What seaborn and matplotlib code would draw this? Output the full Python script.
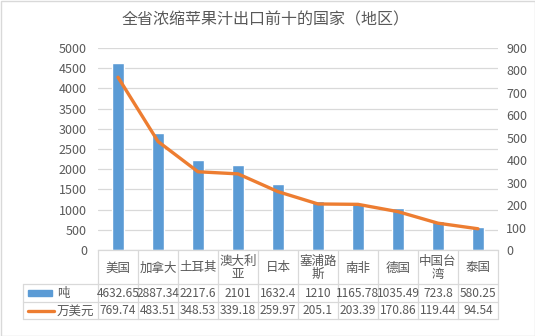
import numpy as np
import pandas as pd
import matplotlib
matplotlib.use("Agg")
import matplotlib.pyplot as plt
from matplotlib.lines import Line2D
from matplotlib.patches import Rectangle
import seaborn as sns

# Export data for the top ten destinations
categories = ["美国", "加拿大", "土耳其", "澳大利亚", "日本", "塞浦路斯", "南非", "德国", "中国台湾", "泰国"]
header_labels = ["美国", "加拿大", "土耳其", "澳大利\n亚", "日本", "塞浦路\n斯", "南非", "德国", "中国台\n湾", "泰国"]
tons = [4632.65, 2887.34, 2217.6, 2101, 1632.4, 1210, 1165.78, 1035.49, 723.8, 580.25]
usd_10k = [769.74, 483.51, 348.53, 339.18, 259.97, 205.1, 203.39, 170.86, 119.44, 94.54]
tons_text = ["4632.65", "2887.34", "2217.6", "2101", "1632.4", "1210", "1165.78", "1035.49", "723.8", "580.25"]
usd_text = ["769.74", "483.51", "348.53", "339.18", "259.97", "205.1", "203.39", "170.86", "119.44", "94.54"]
series_names = ["吨", "万美元"]
title = "全省浓缩苹果汁出口前十的国家（地区）"

sns.set_theme(style="white")
plt.rcParams["font.family"] = ["Noto Sans CJK SC", "DejaVu Sans"]

BLUE = "#5B9BD5"
ORANGE = "#ED7D31"
GRID = "#D9D9D9"
TEXT = "#595959"

W, H = 535, 336
fig = plt.figure(figsize=(W / 100, H / 100), dpi=100)

# plot area in pixel units
px_l, px_r, px_t, px_b = 98, 498, 48, 250
ax = fig.add_axes([px_l / W, 1 - px_b / H, (px_r - px_l) / W, (px_b - px_t) / H])

df = pd.DataFrame({"cat": categories, "tons": tons, "usd": usd_10k, "pos": np.arange(len(categories))})

sns.barplot(data=df, x="cat", y="tons", order=categories, color=BLUE, width=0.3,
            saturation=1, ax=ax)
ax.set_xlim(-0.5, len(categories) - 0.5)
ax.set_ylim(0, 5000)
ax.set_yticks(np.arange(0, 5001, 500))
ax.yaxis.grid(True, color=GRID, linewidth=0.9)
ax.set_axisbelow(True)
ax.set_xticks([])
ax.set_xlabel("")
ax.set_ylabel("")
for s in ["top", "right", "left"]:
    ax.spines[s].set_visible(False)
ax.spines["bottom"].set_color(GRID)
ax.spines["bottom"].set_linewidth(0.9)
ax.tick_params(axis="y", length=0, pad=8, labelsize=9, labelcolor=TEXT)

ax2 = ax.twinx()
sns.lineplot(data=df, x="pos", y="usd", color=ORANGE, linewidth=2.4, ax=ax2)
ax2.set_ylim(0, 900)
ax2.set_yticks(np.arange(0, 901, 100))
ax2.set_xlim(-0.5, len(categories) - 0.5)
ax2.set_ylabel("")
ax2.set_xlabel("")
for s in ["top", "right", "left", "bottom"]:
    ax2.spines[s].set_visible(False)
ax2.tick_params(axis="y", length=0, pad=6, labelsize=9, labelcolor=TEXT)

# overlay in pixel coordinates for the title, the data table and the frame
ov = fig.add_axes([0, 0, 1, 1], zorder=5)
ov.set_xlim(0, W)
ov.set_ylim(H, 0)
ov.axis("off")
ov.patch.set_alpha(0)

ov.add_patch(Rectangle((0.5, 0.5), W - 1, H - 1, fill=False, edgecolor=GRID, linewidth=1))
ov.text(W / 2 - 2, 20, title, ha="center", va="center", fontsize=11.5, color=TEXT)

# column boundaries from the category axis
fig.canvas.draw()
edges = [ax.transData.transform((k - 0.5, 0))[0] for k in range(len(categories) + 1)]
centers = [(edges[i] + edges[i + 1]) / 2 for i in range(len(categories))]

row_top, row1, row2, row_bot = 250, 284, 302, 319
left_edge = 23
lw = 0.9
for xe in edges:
    ov.add_line(Line2D([xe, xe], [row_top, row_bot], color=GRID, linewidth=lw))
ov.add_line(Line2D([left_edge, left_edge], [row1, row_bot], color=GRID, linewidth=lw))
for yy in (row1, row2, row_bot):
    ov.add_line(Line2D([left_edge, edges[-1]], [yy, yy], color=GRID, linewidth=lw))

for cx, lab in zip(centers, header_labels):
    ov.text(cx, (row_top + row1) / 2 + 1, lab, ha="center", va="center", fontsize=9,
            color=TEXT, linespacing=1.05)
for cx, t in zip(centers, tons_text):
    ov.text(cx, (row1 + row2) / 2 + 0.5, t, ha="center", va="center", fontsize=8.6, color=TEXT)
for cx, t in zip(centers, usd_text):
    ov.text(cx, (row2 + row_bot) / 2 + 0.5, t, ha="center", va="center", fontsize=8.6, color=TEXT)

# legend keys in the table
ov.add_patch(Rectangle((28, (row1 + row2) / 2 - 3), 24, 6, color=BLUE))
ov.text(57, (row1 + row2) / 2 + 0.5, series_names[0], ha="left", va="center", fontsize=9, color=TEXT)
ov.add_line(Line2D([28, 54], [(row2 + row_bot) / 2, (row2 + row_bot) / 2], color=ORANGE, linewidth=2.4))
ov.text(57, (row2 + row_bot) / 2 + 0.5, series_names[1], ha="left", va="center", fontsize=9, color=TEXT)

fig.savefig("out.png", dpi=100)
